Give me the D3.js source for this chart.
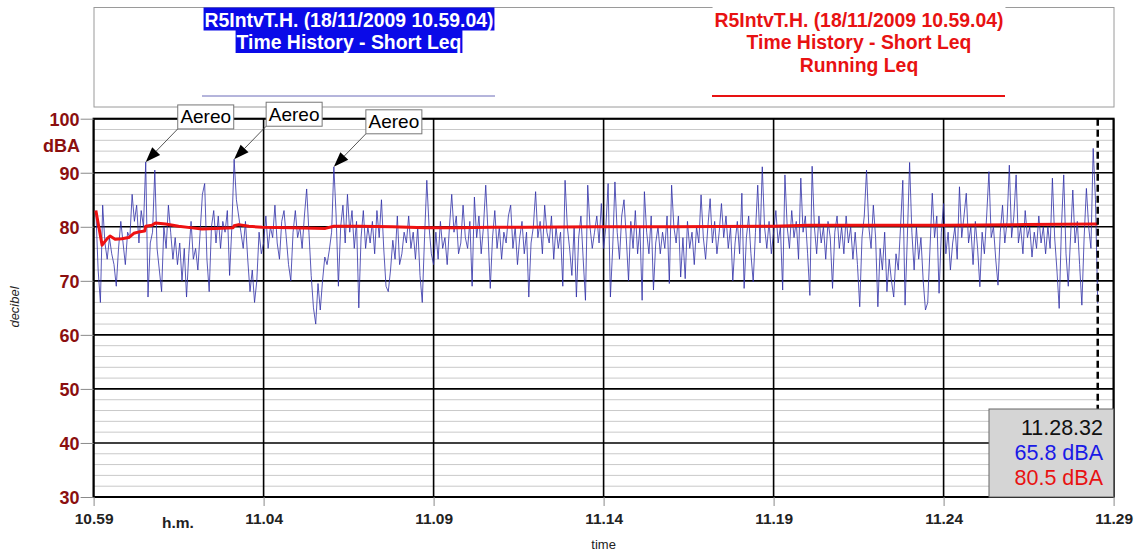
<!DOCTYPE html>
<html>
<head>
<meta charset="utf-8">
<script src="https://cdn.jsdelivr.net/npm/d3@7"></script>
<style>
  body { margin: 0; background: #fff; }
  svg { display: block; }
  text { font-family: "Liberation Sans", Arial, sans-serif; }
</style>
</head>
<body>
<svg id="chart" width="1135" height="552"></svg>
<script>
// ---- data -------------------------------------------------------------
const legendTitle = "R5IntvT.H. (18/11/2009 10.59.04)";
const seriesNames = ["Time History - Short Leq", "Running Leq"];
const yTicks = [30, 40, 50, 60, 70, 80, 90, 100];
const xTickLabels = ["10.59", "11.04", "11.09", "11.14", "11.19", "11.24", "11.29"];
const startTime = "10.59.04";
const sampleSeconds = 4;

// Short Leq (dBA), one value per 4 s sample, one row per minute
const shortLeq = [
  83, 72, 66, 84, 77, 74, 78, 75, 73, 69, 76, 81, 77, 73, 79,
  78, 86, 81, 84, 77, 83, 80, 92, 67, 77, 79, 90.5, 76, 72, 68,
  80, 76, 84, 79, 74, 78, 73, 77, 70, 76, 67, 75, 81, 74, 76,
  72, 79, 86, 88, 74, 68, 80, 83, 77, 82, 76, 81, 79, 83, 71,
  80, 92.5, 85, 82, 79, 76, 81, 74, 68, 72, 66, 70, 79, 75, 77,
  82, 76, 80, 78, 84, 77, 74, 81, 83, 78, 73, 70, 79, 83, 78,
  80, 76, 82, 87, 79, 71, 65, 62, 69.5, 64.6, 70, 74.4, 73, 75.7, 79,
  91.1, 82, 69, 80, 84, 77, 86, 79, 83, 76, 81, 65, 78, 83, 76,
  80, 77, 81, 75, 83, 78, 85, 76, 69, 68, 72, 77.5, 74, 82, 73,
  75, 79, 77, 82, 76, 79, 74, 80, 71, 66, 78, 88.6, 80, 75, 73,
  79, 74, 81, 76, 78, 73, 80, 86, 79, 82, 75, 77, 84, 78, 76,
  81, 69, 85.5, 78, 82, 75, 80, 87.7, 79, 68.6, 78, 83, 76, 80, 74,
  79, 77, 82, 84, 76, 80, 73, 78, 81, 75, 79, 67, 77, 80, 86.5,
  78, 81, 75, 84, 79, 77, 82, 74, 80, 76, 79, 69, 88.6, 80, 76,
  71, 80, 67, 78, 82, 74, 66.4, 87.7, 80, 76, 79, 82, 77, 84.3, 76,
  80, 88, 67, 76, 88.3, 79, 74, 82, 85, 78, 70, 81, 76, 83, 75,
  80, 66.4, 86.5, 79, 75, 82, 68.3, 77, 80, 75, 79, 76, 82, 69.5, 87.7,
  80, 77, 82, 70.7, 78, 70.4, 81, 76, 79, 73, 80, 77, 85.9, 78, 74,
  80, 85.2, 77, 81, 75, 79, 84.3, 78, 82, 76, 80, 70, 77, 81, 75,
  86.2, 68.6, 78, 82, 75, 69.8, 79, 87.7, 77, 91.1, 80, 76, 81, 75, 79,
  83, 77, 80, 68.3, 89.6, 80, 76, 83, 78, 81, 74, 89, 79, 82, 75,
  67.3, 91.2, 80, 75, 82, 77, 80, 74, 81, 78, 68.6, 79, 82, 76, 80,
  75, 82, 77, 80, 74, 79, 73, 65.2, 78, 82, 90.5, 80, 76, 84, 78,
  65.2, 76, 72, 79, 68, 74, 70, 67, 75, 72, 80, 88.6, 65.5, 78, 91.9,
  79, 72, 80, 74, 78, 70, 64.6, 66, 76, 86.2, 78, 82, 67.7, 79, 84.3,
  75, 79, 72, 77, 80, 74, 87.4, 78, 82, 86.2, 77, 80, 73, 81, 76,
  68.9, 79, 75, 82, 90.2, 78, 80, 74, 69.2, 79, 84, 77, 81, 91.4, 78,
  82, 89.6, 77, 80, 75, 83, 78, 80, 74.4, 79, 76, 82, 77, 80, 75,
  80, 76, 89, 78, 72, 64.9, 80, 89.6, 75, 69, 78, 86.8, 77, 81, 73,
  65.5, 78, 87.1, 80, 76, 94.5, 85, 65.8
];

// Running Leq (dBA)
const runningLeqTimes = [
  "10.59.04", "10.59.15", "10.59.24", "10.59.29", "10.59.38", "10.59.50",
  "11.00.02", "11.00.11", "11.00.22", "11.00.30", "11.00.32", "11.00.43",
  "11.00.49", "11.01.07", "11.01.30", "11.01.54", "11.02.11", "11.02.35",
  "11.03.06", "11.03.08", "11.03.16", "11.03.34", "11.03.57", "11.04.50",
  "11.05.49", "11.06.04", "11.06.48", "11.07.47", "11.08.46", "11.09.44",
  "11.10.43", "11.11.42", "11.13.48", "11.16.00", "11.19.00", "11.20.02",
  "11.24.00", "11.26.24", "11.28.32"
];
const runningLeq = [
  83, 76.6, 77.8, 78.3, 77.7, 77.8,
  78.0, 78.8, 79.1, 79.2, 80.1, 80.3,
  80.7, 80.5, 80.1, 79.8, 79.6, 79.7,
  79.8, 80.2, 80.4, 80.1, 79.9, 79.8,
  79.7, 80.1, 80.1, 80.0, 79.8, 79.8,
  79.9, 79.9, 80.0, 80.0, 80.1, 80.3,
  80.3, 80.4, 80.5
];

// Flyover events marked on the trace
const aereoTimes = ["11.00.32", "11.03.08", "11.06.04"];
const aereoLabel = "Aereo";
const cursorTime = "11.28.32";

// ---- setup --------------------------------------------------------------
const svg = d3.select("#chart");
const plot = { left: 93.6, right: 1113.6, top: 118.7, bottom: 497 };

const parseHMS = d3.timeParse("%H.%M.%S");
const parseHM = d3.timeParse("%H.%M");
const fmtHM = d3.timeFormat("%H.%M");
const fmtHMS = d3.timeFormat("%H.%M.%S");

const t0 = parseHMS(startTime);
const blueData = shortLeq.map((v, i) => ({ t: d3.timeSecond.offset(t0, i * sampleSeconds), v }));
const redData = runningLeqTimes.map((s, i) => ({ t: parseHMS(s), v: runningLeq[i] }));
const xTicks = xTickLabels.map(parseHM);

const x = d3.scaleTime()
  .domain([xTicks[0], xTicks[xTicks.length - 1]])
  .range([plot.left, plot.right]);
const y = d3.scaleLinear().domain([30, 100]).range([plot.bottom, plot.top]);

const axisRed = "#8b0f0f";

// ---- legend frame -------------------------------------------------------
svg.append("rect")
  .attr("x", 94).attr("y", 7.5).attr("width", 1020).attr("height", 99.5)
  .attr("fill", "#fff").attr("stroke", "#9a9a9a").attr("stroke-width", 1);

// ---- grid ---------------------------------------------------------------
const minorY = d3.range(32, 100, 2).filter(v => v % 10 !== 0);
svg.append("g").selectAll("line").data(minorY).join("line")
  .attr("x1", plot.left).attr("x2", plot.right)
  .attr("y1", d => y(d)).attr("y2", d => y(d))
  .attr("stroke", "#c9c9c9").attr("stroke-width", 1);

svg.append("g").selectAll("line").data(yTicks).join("line")
  .attr("x1", plot.left).attr("x2", plot.right)
  .attr("y1", d => y(d)).attr("y2", d => y(d))
  .attr("stroke", "#000").attr("stroke-width", 1.6);

svg.append("g").selectAll("line").data(xTicks).join("line")
  .attr("x1", d => x(d)).attr("x2", d => x(d))
  .attr("y1", plot.top).attr("y2", plot.bottom)
  .attr("stroke", "#000").attr("stroke-width", 1.6);

svg.append("rect")
  .attr("x", plot.left).attr("y", plot.top)
  .attr("width", plot.right - plot.left).attr("height", plot.bottom - plot.top)
  .attr("fill", "none").attr("stroke", "#000").attr("stroke-width", 2);

// ---- series -------------------------------------------------------------
const line = d3.line().x(d => x(d.t)).y(d => y(d.v));

svg.append("path").datum(blueData)
  .attr("d", line)
  .attr("fill", "none")
  .attr("stroke", "#3030a8")
  .attr("stroke-opacity", 0.8)
  .attr("stroke-width", 1)
  .attr("stroke-linejoin", "round");

svg.append("path").datum(redData)
  .attr("d", line)
  .attr("fill", "none")
  .attr("stroke", "#ee1111")
  .attr("stroke-width", 3)
  .attr("stroke-linejoin", "round");

// ---- cursor and readout -------------------------------------------------
const tc = parseHMS(cursorTime);
svg.append("line")
  .attr("x1", x(tc)).attr("x2", x(tc))
  .attr("y1", plot.top).attr("y2", plot.bottom)
  .attr("stroke", "#000").attr("stroke-width", 2.5)
  .attr("stroke-dasharray", "7,4");

const box = svg.append("g");
box.append("rect")
  .attr("x", 989).attr("y", 409).attr("width", 124.5).attr("height", 88)
  .attr("fill", "#d5d5d5").attr("stroke", "#666").attr("stroke-width", 1);
const readout = [
  { text: fmtHMS(tc), color: "#111" },
  { text: d3.format(".1f")(blueData[blueData.length - 1].v) + " dBA", color: "#1a1ae6" },
  { text: d3.format(".1f")(redData[redData.length - 1].v) + " dBA", color: "#e81212" }
];
box.selectAll("text").data(readout).join("text")
  .attr("x", 1103).attr("y", (d, i) => 435 + i * 25)
  .attr("text-anchor", "end")
  .attr("font-size", 21.5)
  .attr("fill", d => d.color)
  .text(d => d.text);

// ---- axes ---------------------------------------------------------------
const yAxis = svg.append("g")
  .attr("transform", `translate(${plot.left},0)`)
  .call(d3.axisLeft(y).tickValues(yTicks).tickSize(13).tickPadding(1).tickFormat(d3.format("d")));
yAxis.select(".domain").remove();
yAxis.selectAll(".tick line").attr("stroke", "#8a8a8a").attr("stroke-width", 1);
yAxis.selectAll(".tick text")
  .attr("fill", axisRed).attr("font-size", 18).attr("font-weight", "bold")
  .attr("font-family", "'Liberation Sans', Arial, sans-serif")
  .attr("dy", "0.36em");

svg.append("text")
  .attr("x", 80).attr("y", 152)
  .attr("text-anchor", "end")
  .attr("font-size", 18).attr("font-weight", "bold").attr("fill", axisRed)
  .text("dBA");

const xAxis = svg.append("g")
  .attr("transform", `translate(0,${plot.bottom})`)
  .call(d3.axisBottom(x).tickValues(xTicks).tickSize(9).tickPadding(7).tickFormat(fmtHM));
xAxis.select(".domain").remove();
xAxis.selectAll(".tick line").attr("stroke", "#8a8a8a").attr("stroke-width", 1);
xAxis.selectAll(".tick text")
  .attr("fill", "#222").attr("font-size", 15.5).attr("font-weight", "bold")
  .attr("font-family", "'Liberation Sans', Arial, sans-serif");

svg.append("text")
  .attr("x", 178).attr("y", 528).attr("text-anchor", "middle")
  .attr("font-size", 15.5).attr("font-weight", "bold").attr("fill", "#222")
  .text("h.m.");

svg.append("text")
  .attr("x", (plot.left + plot.right) / 2).attr("y", 549)
  .attr("text-anchor", "middle")
  .attr("font-size", 13).attr("fill", "#222")
  .text("time");

svg.append("text")
  .attr("transform", "translate(19,307) rotate(-90)")
  .attr("text-anchor", "middle")
  .attr("font-size", 13).attr("font-style", "italic").attr("fill", "#222")
  .text("decibel");

// ---- flyover annotations ------------------------------------------------
const byTime = new Map(blueData.map(d => [fmtHMS(d.t), d]));
const notes = svg.append("g");
aereoTimes.forEach(s => {
  const d = byTime.get(s);
  const tx = x(d.t), ty = y(d.v);
  const bx = tx + 32, by = ty - 33;          // bottom-left corner of label box
  const ang = Math.atan2(ty - by, tx - bx);
  const headLen = 15, headHalf = 5.5;
  const baseX = tx - headLen * Math.cos(ang), baseY = ty - headLen * Math.sin(ang);
  const nx = -Math.sin(ang), ny = Math.cos(ang);
  notes.append("line")
    .attr("x1", bx).attr("y1", by).attr("x2", baseX).attr("y2", baseY)
    .attr("stroke", "#444").attr("stroke-width", 0.9);
  notes.append("path")
    .attr("d", `M${tx},${ty}L${baseX + nx * headHalf},${baseY + ny * headHalf}L${baseX - nx * headHalf},${baseY - ny * headHalf}Z`)
    .attr("fill", "#000");
  notes.append("rect")
    .attr("x", bx).attr("y", by - 24).attr("width", 56).attr("height", 24)
    .attr("fill", "#fff").attr("stroke", "#777").attr("stroke-width", 1);
  notes.append("text")
    .attr("x", bx + 28).attr("y", by - 5.5)
    .attr("text-anchor", "middle").attr("font-size", 19).attr("fill", "#000")
    .text(aereoLabel);
});

// ---- legend ---------------------------------------------------------------
const legendCenters = [349, 859];
const lineH = 22.5;
const legendFont = 19.4;

// Short Leq entry: selected style (white on blue)
const blueLines = [legendTitle, seriesNames[0]];
blueLines.forEach((s, i) => {
  const g = svg.append("g");
  const t = g.append("text")
    .attr("x", legendCenters[0]).attr("y", 26.5 + i * lineH)
    .attr("text-anchor", "middle")
    .attr("font-size", legendFont).attr("font-weight", "bold").attr("fill", "#fff")
    .text(s);
  const w = t.node().getComputedTextLength();
  g.insert("rect", "text")
    .attr("x", legendCenters[0] - w / 2 - 1).attr("y", 7.5 + i * lineH)
    .attr("width", w + 2).attr("height", lineH + 0.5)
    .attr("fill", "#0a0ae8");
});
svg.append("line")
  .attr("x1", 202).attr("x2", 495).attr("y1", 96).attr("y2", 96)
  .attr("stroke", "#6a6ab8").attr("stroke-width", 1);

// Running Leq entry
const redLines = [legendTitle, seriesNames[0], seriesNames[1]];
redLines.forEach((s, i) => {
  const g = svg.append("g");
  const t = g.append("text")
    .attr("x", legendCenters[1]).attr("y", 26.5 + i * lineH)
    .attr("text-anchor", "middle")
    .attr("font-size", legendFont).attr("font-weight", "bold").attr("fill", "#e81212")
    .text(s);
  if (i === 0) {
    const w = t.node().getComputedTextLength();
    g.insert("rect", "text")
      .attr("x", legendCenters[1] - w / 2 - 2).attr("y", 6.5)
      .attr("width", w + 4).attr("height", 3).attr("fill", "#fff");
  }
});
svg.append("line")
  .attr("x1", 712).attr("x2", 1005).attr("y1", 96).attr("y2", 96)
  .attr("stroke", "#e81212").attr("stroke-width", 2);
</script>
</body>
</html>
